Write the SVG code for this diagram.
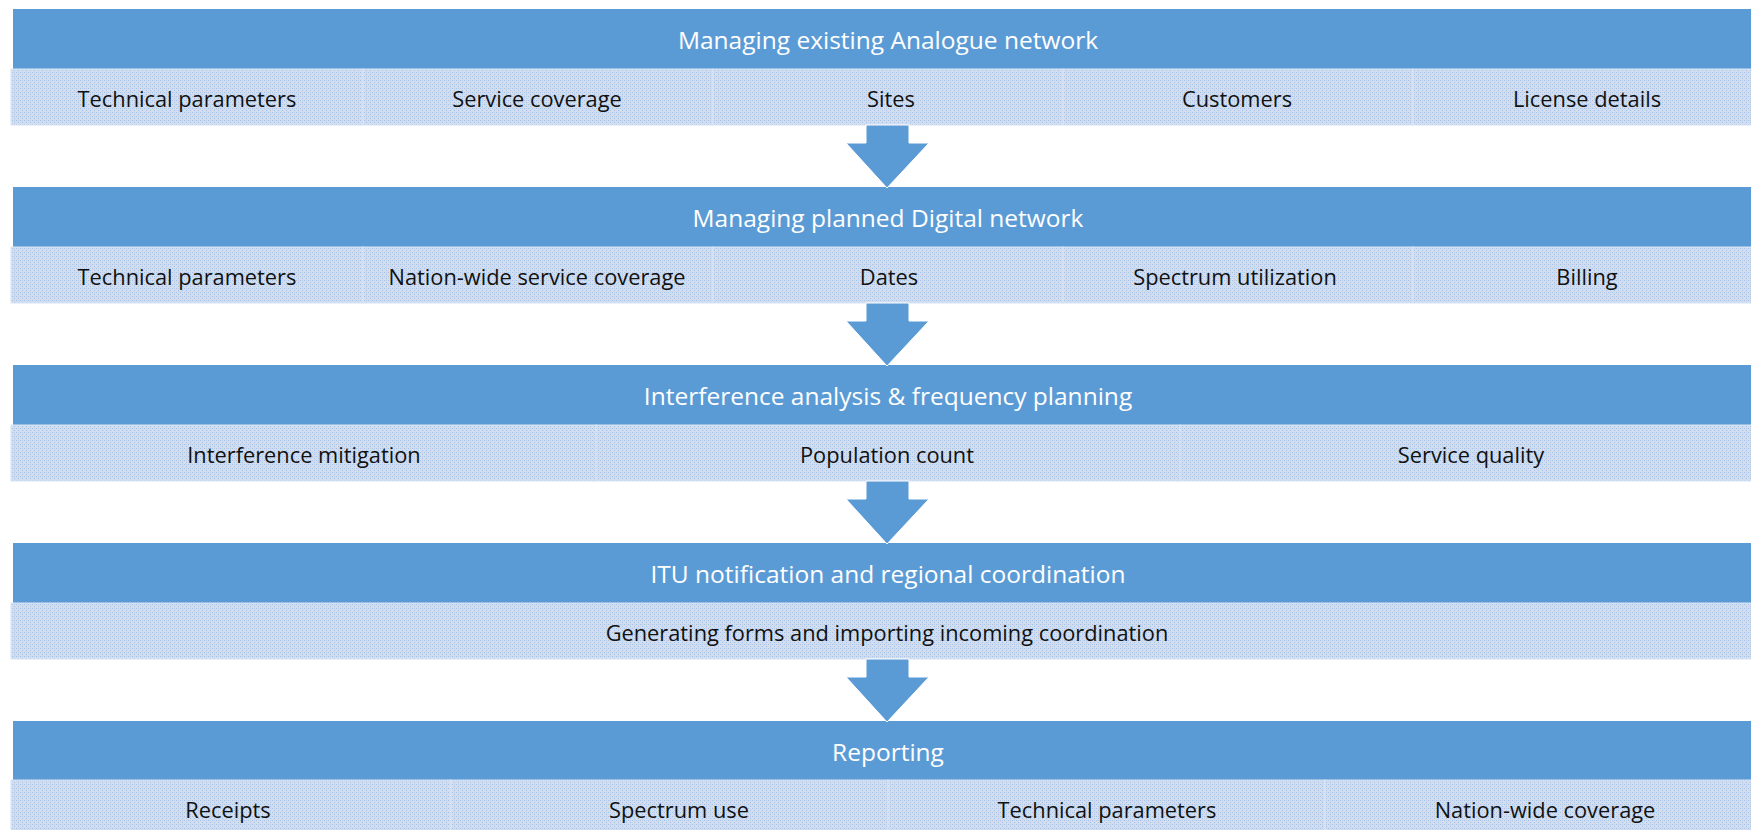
<svg xmlns="http://www.w3.org/2000/svg" width="1751" height="830" viewBox="0 0 1751 830">
<defs>
<pattern id="dots" width="4" height="4" patternUnits="userSpaceOnUse">
<rect width="4" height="4" fill="#d2def0"/>
<rect x="0" y="0" width="1" height="1" fill="#a6c1e6"/>
<rect x="2" y="2" width="1" height="1" fill="#a6c1e6"/>
<rect x="2" y="0" width="1" height="1" fill="#bccfeb"/>
</pattern>
</defs>
<style>
.hdr{fill:#5b9bd5}
.cell{fill:url(#dots);stroke:#dae4f3;stroke-width:1}
.ht{font-family:"Open Sans","Noto Sans",sans-serif;font-size:24.5px;fill:#ffffff;text-anchor:middle;dominant-baseline:central}
.st{font-family:"Open Sans","Noto Sans",sans-serif;font-size:21.8px;fill:#111111;text-anchor:middle;dominant-baseline:central}
.arr{fill:#5b9bd5;stroke:#ffffff;stroke-width:1}
</style>
<rect width="1751" height="830" fill="#ffffff"/>

<g id="band1">
<rect class="hdr" x="13" y="9" width="1750" height="60"/>
<text class="ht" x="888" y="39">Managing existing Analogue network</text>
<rect class="cell" x="11" y="69" width="352" height="56"/>
<rect class="cell" x="363" y="69" width="350" height="56"/>
<rect class="cell" x="713" y="69" width="350" height="56"/>
<rect class="cell" x="1063" y="69" width="350" height="56"/>
<rect class="cell" x="1413" y="69" width="350" height="56"/>
<text class="st" x="187" y="98">Technical parameters</text>
<text class="st" x="537" y="98">Service coverage</text>
<text class="st" x="891" y="98">Sites</text>
<text class="st" x="1237" y="98">Customers</text>
<text class="st" x="1587" y="98">License details</text>
</g>

<g id="band2">
<rect class="hdr" x="13" y="187" width="1750" height="60"/>
<text class="ht" x="888" y="217">Managing planned Digital network</text>
<rect class="cell" x="11" y="247" width="352" height="56"/>
<rect class="cell" x="363" y="247" width="350" height="56"/>
<rect class="cell" x="713" y="247" width="350" height="56"/>
<rect class="cell" x="1063" y="247" width="350" height="56"/>
<rect class="cell" x="1413" y="247" width="350" height="56"/>
<text class="st" x="187" y="276">Technical parameters</text>
<text class="st" x="537" y="276">Nation-wide service coverage</text>
<text class="st" x="889" y="276">Dates</text>
<text class="st" x="1235" y="276">Spectrum utilization</text>
<text class="st" x="1587" y="276">Billing</text>
</g>

<g id="band3">
<rect class="hdr" x="13" y="365" width="1750" height="60"/>
<text class="ht" x="888" y="395">Interference analysis &amp; frequency planning</text>
<rect class="cell" x="11" y="425" width="585" height="56"/>
<rect class="cell" x="596" y="425" width="584" height="56"/>
<rect class="cell" x="1180" y="425" width="583" height="56"/>
<text class="st" x="304" y="454">Interference mitigation</text>
<text class="st" x="887" y="454">Population count</text>
<text class="st" x="1471" y="454">Service quality</text>
</g>

<g id="band4">
<rect class="hdr" x="13" y="543" width="1750" height="60"/>
<text class="ht" x="888" y="573">ITU notification and regional coordination</text>
<rect class="cell" x="11" y="603" width="1752" height="56"/>
<text class="st" x="887" y="632">Generating forms and importing incoming coordination</text>
</g>

<g id="band5">
<rect class="hdr" x="13" y="721" width="1750" height="59"/>
<text class="ht" x="888" y="751">Reporting</text>
<rect class="cell" x="11" y="780" width="440" height="56"/>
<rect class="cell" x="451" y="780" width="437" height="56"/>
<rect class="cell" x="888" y="780" width="437" height="56"/>
<rect class="cell" x="1325" y="780" width="438" height="56"/>
<text class="st" x="228" y="809">Receipts</text>
<text class="st" x="679" y="809">Spectrum use</text>
<text class="st" x="1107" y="809">Technical parameters</text>
<text class="st" x="1545" y="809">Nation-wide coverage</text>
</g>

<g id="connectors">
<polygon class="arr" points="866,125 909,125 909,143 929,143 887,188 846,143 866,143"/>
<polygon class="arr" points="866,303 909,303 909,321 929,321 887,366 846,321 866,321"/>
<polygon class="arr" points="866,481 909,481 909,499 929,499 887,544 846,499 866,499"/>
<polygon class="arr" points="866,659 909,659 909,677 929,677 887,722 846,677 866,677"/>
</g>
</svg>
